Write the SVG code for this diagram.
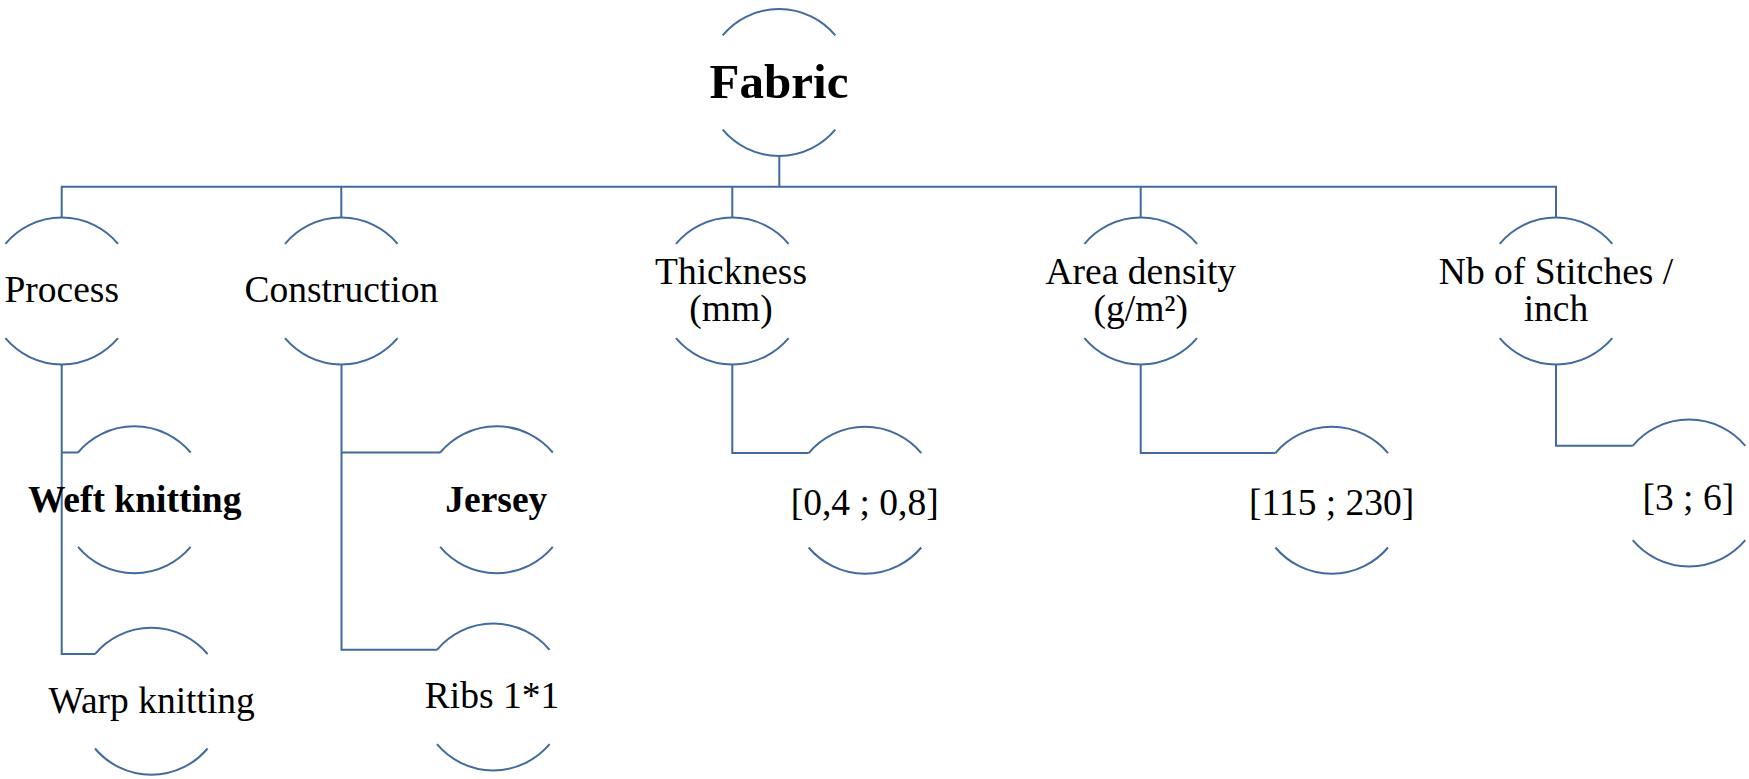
<svg xmlns="http://www.w3.org/2000/svg" width="1749" height="779" viewBox="0 0 1749 779">
<style>
.arc{fill:none;stroke:#416A9E;stroke-width:2}
.con{fill:none;stroke:#416A9E;stroke-width:2}
text{font-family:"Liberation Serif","Times New Roman",serif;font-size:37.5px;fill:#000;text-anchor:middle}
.b{font-weight:bold}
.big{font-size:49px;font-weight:bold}
</style>
<defs>
<path id="circ" class="arc" d="M-56.3,-47.2 A73.5,73.5 0 0 1 56.3,-47.2 M-56.3,47.2 A73.5,73.5 0 0 0 56.3,47.2"/>
</defs>
<rect width="1749" height="779" fill="#fff"/>
<g id="connectors">
<path class="con" d="M779.3,156 V186.7"/>
<path class="con" d="M61.7,217.7 V186.7 H1556 V217.7"/>
<path class="con" d="M341.3,186.7 V217.7 M732.3,186.7 V217.7 M1140.7,186.7 V217.7"/>
<path class="con" d="M61.7,364.5 V654.1 H95 M61.7,452.5 H78"/>
<path class="con" d="M341.5,364.5 V649.8 H437 M341.5,452.5 H440.2"/>
<path class="con" d="M732.3,364.5 V453.1 H808.7"/>
<path class="con" d="M1140.7,364.5 V453.1 H1275.4"/>
<path class="con" d="M1556,364.5 V445.8 H1632.7"/>
</g>
<g id="fabric">
<use href="#circ" transform="translate(779,82.5)"/>
<text class="big" x="779" y="98.3">Fabric</text>
</g>
<g id="process">
<use href="#circ" transform="translate(61.7,291)"/>
<text x="61.7" y="301.7">Process</text>
</g>
<g id="construction">
<use href="#circ" transform="translate(341.3,291)"/>
<text x="341.3" y="301.7">Construction</text>
</g>
<g id="thickness">
<use href="#circ" transform="translate(732.3,291)"/>
<text x="731" y="284"><tspan x="731" y="284">Thickness</tspan><tspan x="731" y="320.5">(mm)</tspan></text>
</g>
<g id="area-density">
<use href="#circ" transform="translate(1140.7,291)"/>
<text x="1140.8" y="284"><tspan x="1140.8" y="284">Area density</tspan><tspan x="1140.8" y="320.5">(g/m²)</tspan></text>
</g>
<g id="stitches">
<use href="#circ" transform="translate(1556,291)"/>
<text x="1556" y="284"><tspan x="1556" y="284">Nb of Stitches /</tspan><tspan x="1556" y="320.5">inch</tspan></text>
</g>
<g id="weft">
<use href="#circ" transform="translate(134.3,499.7)"/>
<text class="b" x="134.7" y="511.7">Weft knitting</text>
</g>
<g id="warp">
<use href="#circ" transform="translate(151.3,701.3)"/>
<text x="151.7" y="713.3">Warp knitting</text>
</g>
<g id="jersey">
<use href="#circ" transform="translate(496.5,499.7)"/>
<text class="b" x="496.3" y="511.7">Jersey</text>
</g>
<g id="ribs">
<use href="#circ" transform="translate(493.3,697)"/>
<text x="492" y="708.3">Ribs 1*1</text>
</g>
<g id="thickness-range">
<use href="#circ" transform="translate(865,500.3)"/>
<text x="864.7" y="515">[0,4 ; 0,8]</text>
</g>
<g id="density-range">
<use href="#circ" transform="translate(1331.7,500.3)"/>
<text x="1331.7" y="515">[115 ; 230]</text>
</g>
<g id="stitches-range">
<use href="#circ" transform="translate(1689,493)"/>
<text x="1688.3" y="510">[3 ; 6]</text>
</g>
</svg>
